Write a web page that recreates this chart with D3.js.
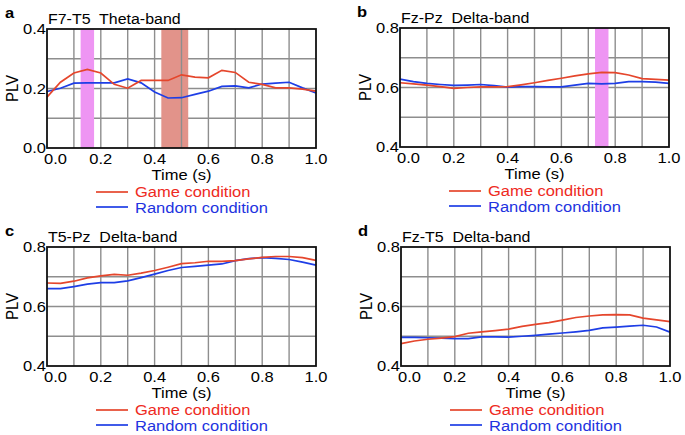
<!DOCTYPE html>
<html><head><meta charset="utf-8">
<script src="https://cdn.jsdelivr.net/npm/d3@7"></script>
<style>body{margin:0;background:#fff}svg{display:block}text{white-space:pre}</style>
</head><body>
<svg id="c" width="685" height="435"></svg>
<script>
// ---- data ----
const times = [0,0.05,0.1,0.15,0.2,0.25,0.3,0.35,0.4,0.45,0.5,0.55,0.6,0.65,0.7,0.75,0.8,0.85,0.9,0.95,1.0];
const xTicks = [0,0.2,0.4,0.6,0.8,1.0];
const panelLetters = ["a","b","c","d"];
const panelTitles = ["F7-T5  Theta-band","Fz-Pz  Delta-band","T5-Pz  Delta-band","Fz-T5  Delta-band"];
const yDomains = [[0,0.4],[0.4,0.8],[0.4,0.8],[0.4,0.8]];
const yTicks = [[0,0.2,0.4],[0.4,0.6,0.8],[0.4,0.6,0.8],[0.4,0.6,0.8]];
const legendLabels = ["Game condition","Random condition"];
const gameA = [0.171,0.221,0.252,0.264,0.252,0.214,0.201,0.227,0.227,0.227,0.246,0.238,0.236,0.261,0.254,0.221,0.214,0.202,0.202,0.198,0.191];
const randA = [0.190,0.201,0.218,0.219,0.219,0.219,0.232,0.219,0.188,0.168,0.169,0.180,0.191,0.207,0.209,0.202,0.215,0.218,0.221,0.202,0.185];
const gameB = [0.616,0.612,0.608,0.603,0.597,0.600,0.602,0.602,0.603,0.609,0.616,0.624,0.631,0.639,0.646,0.651,0.650,0.642,0.630,0.627,0.625];
const randB = [0.628,0.620,0.614,0.610,0.607,0.608,0.610,0.606,0.601,0.603,0.603,0.602,0.602,0.608,0.614,0.612,0.614,0.620,0.620,0.618,0.614];
const gameC = [0.679,0.678,0.685,0.696,0.703,0.708,0.705,0.712,0.721,0.732,0.744,0.747,0.752,0.752,0.754,0.760,0.765,0.768,0.768,0.764,0.755];
const randC = [0.660,0.660,0.667,0.675,0.680,0.680,0.686,0.697,0.709,0.721,0.731,0.735,0.739,0.743,0.754,0.761,0.764,0.762,0.758,0.749,0.739];
const gameD = [0.475,0.484,0.490,0.494,0.499,0.510,0.515,0.519,0.524,0.533,0.540,0.546,0.554,0.563,0.568,0.572,0.573,0.572,0.561,0.555,0.549];
const randD = [0.496,0.496,0.495,0.494,0.492,0.492,0.498,0.498,0.497,0.500,0.503,0.507,0.511,0.515,0.520,0.528,0.531,0.534,0.537,0.531,0.514];
const gameSeries = [gameA,gameB,gameC,gameD];
const randSeries = [randA,randB,randC,randD];
// highlighted time windows [start,end,colorIndex]
const bandsA = [[0.125,0.175,0],[0.425,0.525,1]];
const bandsB = [[0.725,0.775,0]];
const bandsAll = [bandsA,bandsB,[],[]];

// ---- style ----
const RED_LINE="#e5462c", BLUE_LINE="#1e3ee6", RED_TXT="#ee2a22", BLUE_TXT="#2233e0";
const bandColors=["#ee95f3","#e2938a"];
const FONT="'Liberation Sans', Arial, sans-serif";
const SX=1.1;
const panels=[{l:47,t:29},{l:400,t:28},{l:47,t:247},{l:401,t:247}];
const W=269,H=119;

const svg=d3.select("#c");
function txt(g,x,y,s,o={}){
  const t=g.append("text").attr("transform",`translate(${x},${y}) scale(${SX},1)`+(o.rot?" rotate(-90)":""))
    .attr("font-family",FONT).attr("font-size",o.size||14).attr("fill",o.fill||"#000")
    .attr("text-anchor",o.anchor||"start").attr("xml:space","preserve").text(s);
  if(o.bold) t.attr("font-weight","bold");
  if(o.dy) t.attr("dy",o.dy);
  return t;
}

panels.forEach((p,i)=>{
  const g=svg.append("g");
  const x=d3.scaleLinear().domain([0,1]).range([p.l,p.l+W]);
  const y=d3.scaleLinear().domain(yDomains[i]).range([p.t+H,p.t]);
  const yd=yDomains[i];
  const hGrid=d3.range(1,4).map(k=>yd[0]+k*(yd[1]-yd[0])/4);
  const vGrid=d3.range(1,10).map(k=>k/10);
  // horizontal grid
  g.selectAll(".hg").data(hGrid).join("line").attr("x1",p.l).attr("x2",p.l+W)
    .attr("y1",d=>y(d)).attr("y2",d=>y(d)).attr("stroke","#8e8e8e").attr("stroke-width",1.4);
  // bands
  g.selectAll(".bd").data(bandsAll[i]).join("rect").attr("x",d=>x(d[0])).attr("width",d=>x(d[1])-x(d[0]))
    .attr("y",p.t).attr("height",H).attr("fill",d=>bandColors[d[2]]);
  // vertical grid
  g.selectAll(".vg").data(vGrid).join("line").attr("y1",p.t).attr("y2",p.t+H)
    .attr("x1",d=>x(d)).attr("x2",d=>x(d)).attr("stroke","#8e8e8e").attr("stroke-width",1.4);
  // lines
  const line=d3.line().x((d,k)=>x(times[k])).y(d=>y(d));
  g.append("path").datum(randSeries[i]).attr("d",line).attr("fill","none").attr("stroke",BLUE_LINE).attr("stroke-width",1.7);
  g.append("path").datum(gameSeries[i]).attr("d",line).attr("fill","none").attr("stroke",RED_LINE).attr("stroke-width",1.7);
  // frame
  g.append("rect").attr("x",p.l).attr("y",p.t).attr("width",W).attr("height",H)
    .attr("fill","none").attr("stroke","#111").attr("stroke-width",1.8);
  // tick labels
  yTicks[i].forEach(v=>txt(g,p.l-1,y(v),d3.format(".1f")(v),{anchor:"end",size:15,dy:"0.36em"}));
  xTicks.forEach((v,k)=>txt(g,k===0?x(v)-3:x(v),p.t+H+16,d3.format(".1f")(v),{anchor:k===0?"start":"middle",size:15}));
  // axis titles
  txt(g,p.l+W/2,p.t+H+32,"Time (s)",{anchor:"middle",size:15});
  txt(g,p.l-29,p.t+H/2,"PLV",{anchor:"middle",size:15,rot:true});
  // title and panel letter
  txt(g,p.l+1,p.t-5,panelTitles[i],{size:14.5});
  txt(g,p.l-42-(i%2?1:0),p.t-11,panelLetters[i],{size:15,bold:true});
  // legend
  const ly=p.t+H;
  [[RED_LINE,RED_TXT],[BLUE_LINE,BLUE_TXT]].forEach((c,k)=>{
    g.append("line").attr("x1",p.l+49).attr("x2",p.l+81).attr("y1",ly+44+k*15).attr("y2",ly+44+k*15)
      .attr("stroke",c[0]).attr("stroke-width",1.7);
    txt(g,p.l+88,ly+49+k*16,legendLabels[k],{size:15,fill:c[1]});
  });
});
</script>
</body></html>
